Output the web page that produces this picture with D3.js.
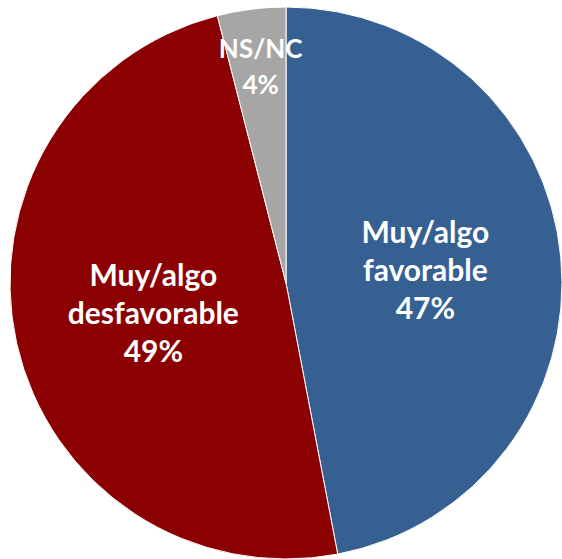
<!DOCTYPE html>
<html>
<head>
    <meta charset="utf-8">
    <script src="https://cdn.jsdelivr.net/npm/d3@7"></script>
    <style>
        body { margin: 0; background: #fff; }
        svg { display: block; }
        .lbl { font-family: Lato, "Open Sans", sans-serif; font-weight: bold; fill: #fff; }
    </style>
</head>
<body>
<script>
    var categories = ["Muy/algo favorable", "Muy/algo desfavorable", "NS/NC"];
    var labelLines = [["Muy/algo", "favorable", "47%"], ["Muy/algo", "desfavorable", "49%"], ["NS/NC", "4%"]];
    var values = [47, 49, 4];
    var colors = ["#376092", "#8b0000", "#a6a6a6"];

    var width = 562, height = 559;
    var cx = 286, cy = 283, radius = 276;

    var svg = d3.select("body").append("svg")
            .attr("width", width)
            .attr("height", height);
    var g = svg.append("g").attr("transform", "translate(" + cx + "," + cy + ")");

    var pie = d3.pie().sort(null).value(function (d) { return d; });
    var arcs = pie(values);
    var arc = d3.arc().innerRadius(0).outerRadius(radius);

    g.selectAll("path.slice").data(arcs).enter()
            .append("path").attr("class", "slice")
            .attr("d", arc)
            .attr("fill", function (d, i) { return colors[i]; })
            .attr("stroke", "#fff")
            .attr("stroke-width", 1);

    // label radius as fraction of pie radius (excel "best fit")
    var labelPos = [0.5, 0.5, 0.79];
    var lineH = [38, 38, 36];
    var fontSize = [30, 30, 26];

    arcs.forEach(function (d, i) {
        var r = radius * labelPos[i];
        var c = d3.arc().innerRadius(r).outerRadius(r).centroid(d);
        var lines = labelLines[i];
        var t = g.append("text").attr("class", "lbl")
                .attr("text-anchor", "middle")
                .style("font-size", fontSize[i] + "px");
        var y0 = c[1] - (lines.length - 1) * lineH[i] / 2;
        lines.forEach(function (s, j) {
            t.append("tspan")
                    .attr("x", c[0] + 2)
                    .attr("y", y0 + j * lineH[i])
                    .attr("dy", "0.36em")
                    .text(s);
        });
    });
</script>
</body>
</html>
